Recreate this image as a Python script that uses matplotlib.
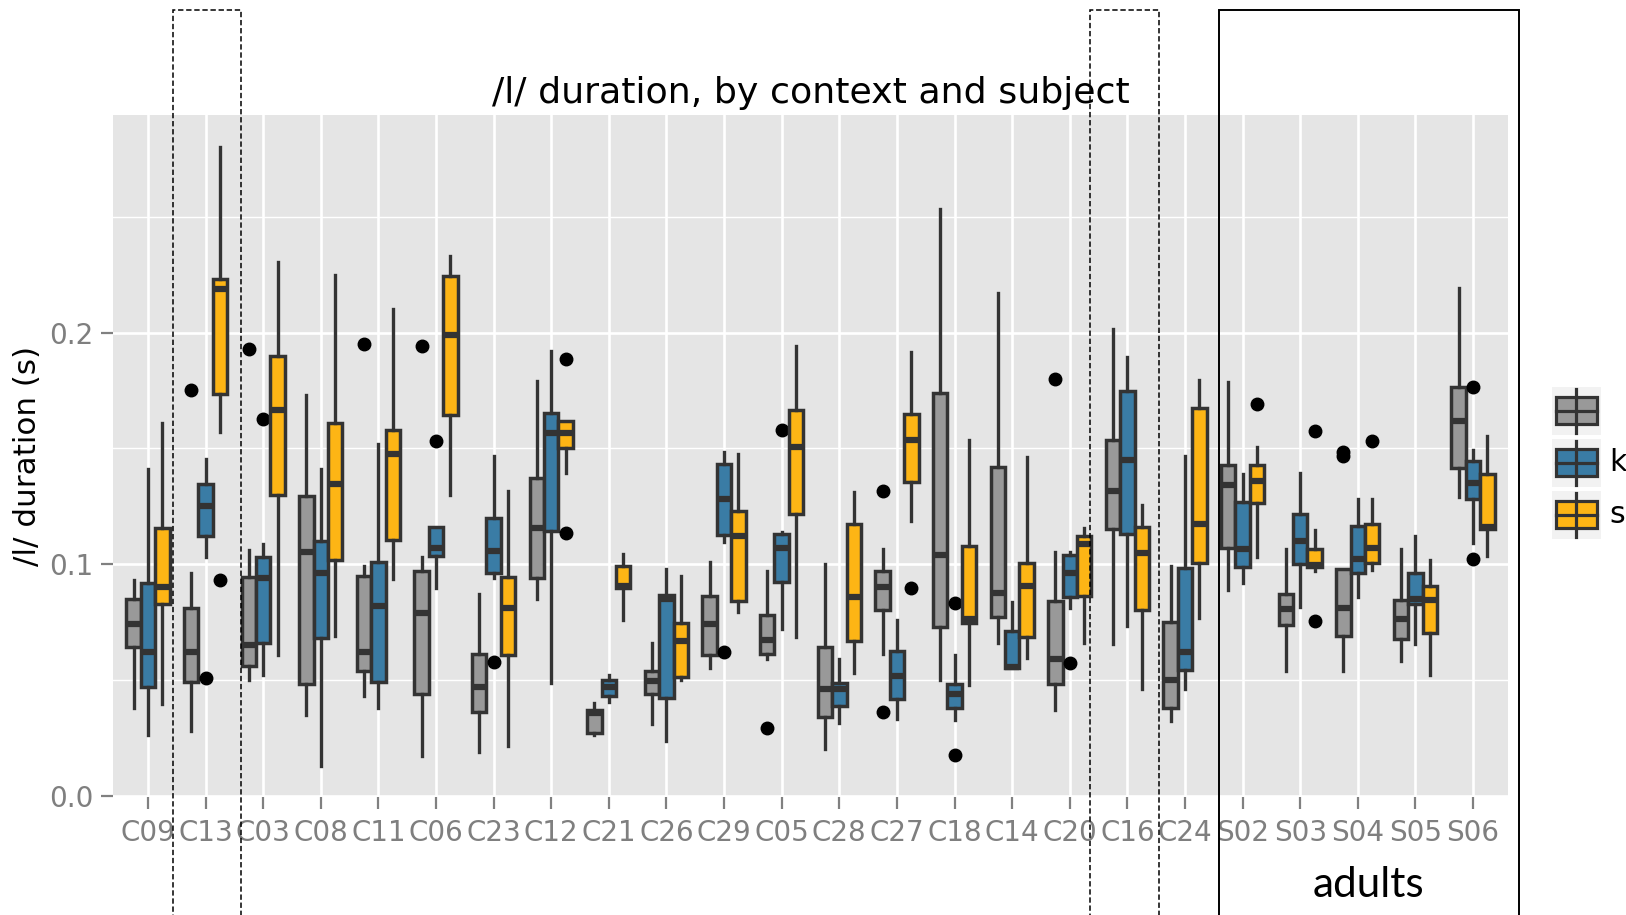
import numpy as np
import matplotlib.pyplot as plt
from matplotlib.patches import Rectangle
from matplotlib.lines import Line2D
from matplotlib.transforms import blended_transform_factory

subjects = ['C09', 'C13', 'C03', 'C08', 'C11', 'C06', 'C23', 'C12', 'C21', 'C26',
            'C29', 'C05', 'C28', 'C27', 'C18', 'C14', 'C20', 'C16', 'C24',
            'S02', 'S03', 'S04', 'S05', 'S06']
groups = ['', 'k', 's']
colors = ['#999999', '#3A7CA5', '#FDB515']

# (whisker low, q1, median, q3, whisker high), one row per subject
grey_stats = [
    (0.038, 0.064, 0.074, 0.085, 0.093),
    (0.028, 0.049, 0.062, 0.081, 0.096),
    (0.050, 0.056, 0.065, 0.0945, 0.106),
    (0.035, 0.048, 0.105, 0.1295, 0.173),
    (0.043, 0.054, 0.062, 0.095, 0.099),
    (0.017, 0.044, 0.079, 0.097, 0.103),
    (0.019, 0.036, 0.047, 0.061, 0.087),
    (0.085, 0.094, 0.1155, 0.137, 0.179),
    (0.026, 0.027, 0.0355, 0.037, 0.040),
    (0.031, 0.044, 0.0495, 0.054, 0.066),
    (0.055, 0.0605, 0.074, 0.086, 0.101),
    (0.059, 0.061, 0.067, 0.078, 0.097),
    (0.020, 0.034, 0.046, 0.064, 0.100),
    (0.061, 0.080, 0.090, 0.097, 0.1065),
    (0.050, 0.073, 0.104, 0.174, 0.2536),
    (0.066, 0.077, 0.0876, 0.142, 0.217),
    (0.037, 0.048, 0.059, 0.084, 0.105),
    (0.0655, 0.115, 0.1315, 0.1534, 0.2015),
    (0.032, 0.038, 0.050, 0.075, 0.099),
    (0.089, 0.107, 0.134, 0.1427, 0.1786),
    (0.0536, 0.0737, 0.0808, 0.0871, 0.1065),
    (0.054, 0.069, 0.081, 0.098, 0.098),
    (0.058, 0.0675, 0.0763, 0.0845, 0.1065),
    (0.129, 0.1414, 0.1618, 0.1764, 0.2193),
]
k_stats = [
    (0.026, 0.047, 0.062, 0.092, 0.141),
    (0.103, 0.112, 0.125, 0.1345, 0.1455),
    (0.052, 0.066, 0.094, 0.103, 0.1085),
    (0.0126, 0.068, 0.096, 0.110, 0.141),
    (0.038, 0.049, 0.082, 0.101, 0.152),
    (0.0896, 0.1034, 0.107, 0.1158, 0.116),
    (0.0938, 0.096, 0.1057, 0.120, 0.1466),
    (0.0486, 0.1144, 0.1565, 0.1652, 0.1922),
    (0.0404, 0.0428, 0.0468, 0.050, 0.052),
    (0.0237, 0.0421, 0.0851, 0.0866, 0.0978),
    (0.1096, 0.1125, 0.128, 0.1434, 0.1484),
    (0.072, 0.0924, 0.107, 0.1131, 0.1139),
    (0.0313, 0.0385, 0.046, 0.0486, 0.059),
    (0.0331, 0.0418, 0.0517, 0.0626, 0.0759),
    (0.0325, 0.038, 0.0438, 0.0481, 0.0608),
    (0.055, 0.055, 0.0557, 0.0711, 0.0838),
    (0.0809, 0.0856, 0.0963, 0.1039, 0.1053),
    (0.0733, 0.1132, 0.1448, 0.1747, 0.1894),
    (0.046, 0.0543, 0.0619, 0.0981, 0.1466),
    (0.092, 0.0986, 0.1065, 0.1269, 0.1388),
    (0.0816, 0.0999, 0.110, 0.1216, 0.1395),
    (0.0859, 0.0963, 0.1022, 0.1164, 0.1283),
    (0.0654, 0.0826, 0.0851, 0.0963, 0.1121),
    (0.1092, 0.128, 0.1352, 0.1445, 0.1491),
]
s_stats = [
    (0.0397, 0.0828, 0.0902, 0.1155, 0.1608),
    (0.1569, 0.1733, 0.219, 0.2233, 0.280),
    (0.0605, 0.130, 0.1665, 0.1901, 0.2307),
    (0.069, 0.1017, 0.1348, 0.1608, 0.2247),
    (0.0934, 0.1106, 0.1474, 0.1579, 0.210),
    (0.1297, 0.1644, 0.1989, 0.2246, 0.2333),
    (0.0216, 0.0605, 0.0809, 0.0943, 0.1316),
    (0.1392, 0.150, 0.1565, 0.1616, 0.1616),
    (0.0759, 0.0895, 0.0905, 0.0993, 0.1043),
    (0.050, 0.051, 0.0668, 0.0747, 0.0948),
    (0.0794, 0.0842, 0.1122, 0.123, 0.1474),
    (0.0684, 0.1216, 0.1506, 0.1667, 0.1944),
    (0.0529, 0.0668, 0.0859, 0.1172, 0.1312),
    (0.1187, 0.1355, 0.1534, 0.165, 0.1915),
    (0.0478, 0.0747, 0.0761, 0.1078, 0.1534),
    (0.0593, 0.0684, 0.0905, 0.1003, 0.1463),
    (0.0658, 0.0863, 0.1086, 0.1121, 0.1154),
    (0.046, 0.0802, 0.1046, 0.1158, 0.1257),
    (0.0766, 0.1006, 0.1175, 0.1675, 0.1796),
    (0.1032, 0.1262, 0.1359, 0.1427, 0.1506),
    (0.0971, 0.0989, 0.0996, 0.1065, 0.1147),
    (0.0974, 0.1006, 0.107, 0.1172, 0.1283),
    (0.052, 0.0704, 0.0845, 0.0905, 0.1017),
    (0.1034, 0.115, 0.1161, 0.139, 0.1553),
]

# outliers
grey_out = {'C13': [0.175], 'C03': [0.193], 'C11': [0.195], 'C06': [0.194],
            'C05': [0.029], 'C27': [0.1316, 0.036], 'C20': [0.180],
            'S04': [0.1485, 0.1465]}
k_out = {'C13': [0.0506], 'C03': [0.1625], 'C06': [0.1531], 'C23': [0.0579],
         'C29': [0.0618], 'C05': [0.1578], 'C18': [0.083, 0.0177],
         'C20': [0.0572], 'S06': [0.1764, 0.1024]}
s_out = {'C13': [0.0931], 'C12': [0.1886, 0.1135], 'C27': [0.0895],
         'S02': [0.169], 'S03': [0.0756, 0.1573], 'S04': [0.1532]}

W, H = 1626, 915
fig = plt.figure(figsize=(W / 100, H / 100), dpi=100)
ax = fig.add_axes([113.4 / W, 1 - 796.7 / H, 1394.2 / W, 681.7 / H])
ax.set_facecolor('#E5E5E5')
for sp in ax.spines.values():
    sp.set_visible(False)

x = np.arange(1, len(subjects) + 1)
edge = '#333333'
for gi, (stats, outs, col) in enumerate(zip([grey_stats, k_stats, s_stats],
                                            [grey_out, k_out, s_out], colors)):
    bstats = []
    for subj, (lo, q1, med, q3, hi) in zip(subjects, stats):
        bstats.append(dict(whislo=lo, q1=q1, med=med, q3=q3, whishi=hi,
                           fliers=outs.get(subj, [])))
    ax.bxp(bstats, positions=x + (gi - 1) * 0.25, widths=0.25,
           patch_artist=True, showcaps=False, manage_ticks=False,
           boxprops=dict(facecolor=col, edgecolor=edge, linewidth=2.5),
           whiskerprops=dict(color=edge, linewidth=2.4),
           medianprops=dict(color=edge, linewidth=4.5),
           flierprops=dict(marker='o', markerfacecolor='black',
                           markeredgecolor='black', markersize=9),
           zorder=3)

tick_size = 20

ax.set_xlim(0.4, len(subjects) + 0.6)
ax.set_ylim(-0.0005, 0.294)
ax.set_xticks(x)
ax.set_xticklabels(subjects)
ax.set_yticks([0.0, 0.1, 0.2])
ax.set_yticklabels(['0.0', '0.1', '0.2'])
ax.set_yticks([0.05, 0.15, 0.25], minor=True)
ax.tick_params(axis='both', which='major', length=8.6, width=1.6,
               color='#808080', labelcolor='#7F7F7F', labelsize=tick_size)
ax.tick_params(axis='x', pad=7.5)
ax.tick_params(axis='y', pad=5.5)
ax.tick_params(axis='y', which='minor', length=0)
ax.set_axisbelow(True)
ax.grid(True, which='major', color='white', linewidth=1.9)
ax.grid(True, which='minor', axis='y', color='white', linewidth=1.0)

fig.text(810.5 / W, 1 - 103 / H, '/l/ duration, by context and subject',
         fontsize=26.2, ha='center', va='baseline')
fig.text(27 / W, 1 - 456 / H, '/l/ duration (s)', fontsize=22.3,
         rotation=90, ha='center', va='center')
adults = fig.text(1368 / W, 1 - 897 / H, 'adults', family='Lato', fontsize=29,
                  ha='center', va='baseline')

# fit the Lato label to the width measured on the reference
fig.canvas.draw()
r = fig.canvas.get_renderer()
adults.set_fontsize(29 * 112 / adults.get_window_extent(r).width)

# highlight frames
tr = blended_transform_factory(ax.transData, fig.transFigure)
i13 = subjects.index('C13') + 1
i16 = subjects.index('C16') + 1
i02 = subjects.index('S02') + 1
for left, right, ls, lw in [(i13 - 0.56, i13 + 0.62, (0, (3.5, 1.8)), 1.1),
                            (i16 - 0.64, i16 + 0.55, (0, (3.5, 1.8)), 1.1),
                            (i02 - 0.41, len(subjects) + 0.8, '-', 1.4)]:
    fig.add_artist(Rectangle((left, -0.1), right - left, 1.1 - 10 / H,
                             transform=tr, fill=False, edgecolor='black',
                             linestyle=ls, linewidth=lw, clip_on=False, zorder=10))

# legend
for i, (lab, col) in enumerate(zip(groups, colors)):
    top = 386.7 + i * 52
    cy = top + 24.15
    fig.add_artist(Rectangle((1552 / W, 1 - (top + 48.3) / H), 48.7 / W, 48.3 / H,
                             transform=fig.transFigure, facecolor='#F2F2F2',
                             edgecolor='none'))
    fig.add_artist(Line2D([1576.3 / W] * 2, [1 - (cy - 21.8) / H, 1 - (cy + 21.8) / H],
                          color=edge, linewidth=2.3))
    fig.add_artist(Rectangle((1556 / W, 1 - (cy + 13.5) / H), 40.7 / W, 27 / H,
                             transform=fig.transFigure, facecolor=col,
                             edgecolor=edge, linewidth=2.3))
    fig.add_artist(Line2D([1556 / W, 1596.7 / W], [1 - cy / H] * 2,
                          color=edge, linewidth=2.3))
    fig.text(1609 / W, 1 - cy / H, lab, fontsize=tick_size * 1.08,
             ha='left', va='center')

fig.savefig('out.png', dpi=100)
